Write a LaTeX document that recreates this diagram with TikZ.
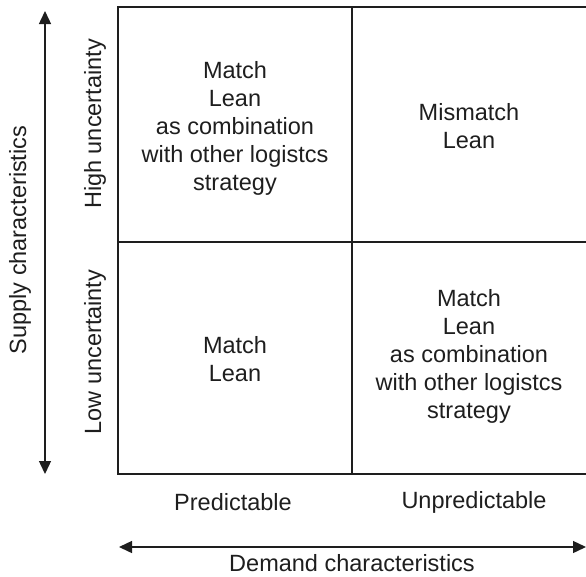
\documentclass[tikz,border=0pt]{standalone}
\usepackage{fontspec}
\setmainfont{Liberation Sans}
\usetikzlibrary{arrows.meta}
\definecolor{ink}{HTML}{1E1E1E}
\tikzset{
  gridline/.style={draw=ink, line width=2pt},
  axisarrow/.style={draw=ink, line width=1.4pt, {Triangle[length=13pt,width=12pt]}-{Triangle[length=13pt,width=12pt]}},
  lbl/.style={text=ink, font=\fontsize{23.5}{28}\selectfont, align=center, inner sep=0pt},
}
\begin{document}
\begin{tikzpicture}[x=1pt,y=-1pt]
\useasboundingbox (0,0) rectangle (586,576);
% grid
\coordinate (tl) at (118,7);
\coordinate (br) at (590,474);
\coordinate (mt) at (352,7);
\coordinate (mb) at (352,474);
\coordinate (ml) at (118,242);
\coordinate (mr) at (590,242);
\draw[gridline] (tl) rectangle (br);
\draw[gridline] (mt) -- (mb);
\draw[gridline] (ml) -- (mr);
% cell texts
\node[lbl] (c11) at (235,128) {Match\\Lean\\as combination\\with other logistcs\\strategy};
\node[lbl] (c12) at (469,126) {Mismatch\\Lean};
\node[lbl] (c21) at (235,359) {Match\\Lean};
\node[lbl] (c22) at (469,356) {Match\\Lean\\as combination\\with other logistcs\\strategy};
% axis labels
\node[lbl, rotate=90] (hu) at (95,124) {High uncertainty};
\node[lbl, rotate=90] (lu) at (95,352) {Low uncertainty};
\node[lbl] (pr) at (233,502) {Predictable};
\node[lbl] (un) at (474,502) {Unpredictable};
\node[lbl, rotate=90] (sc) at (20,240) {Supply characteristics};
\node[lbl] (dc) at (352,563) {Demand characteristics};
% arrows
\coordinate (vt) at (45,11);
\coordinate (vb) at (45,474);
\coordinate (hl) at (119,547);
\coordinate (hr) at (586,547);
\draw[axisarrow] (vb) -- (vt);
\draw[axisarrow] (hl) -- (hr);
\end{tikzpicture}
\end{document}
